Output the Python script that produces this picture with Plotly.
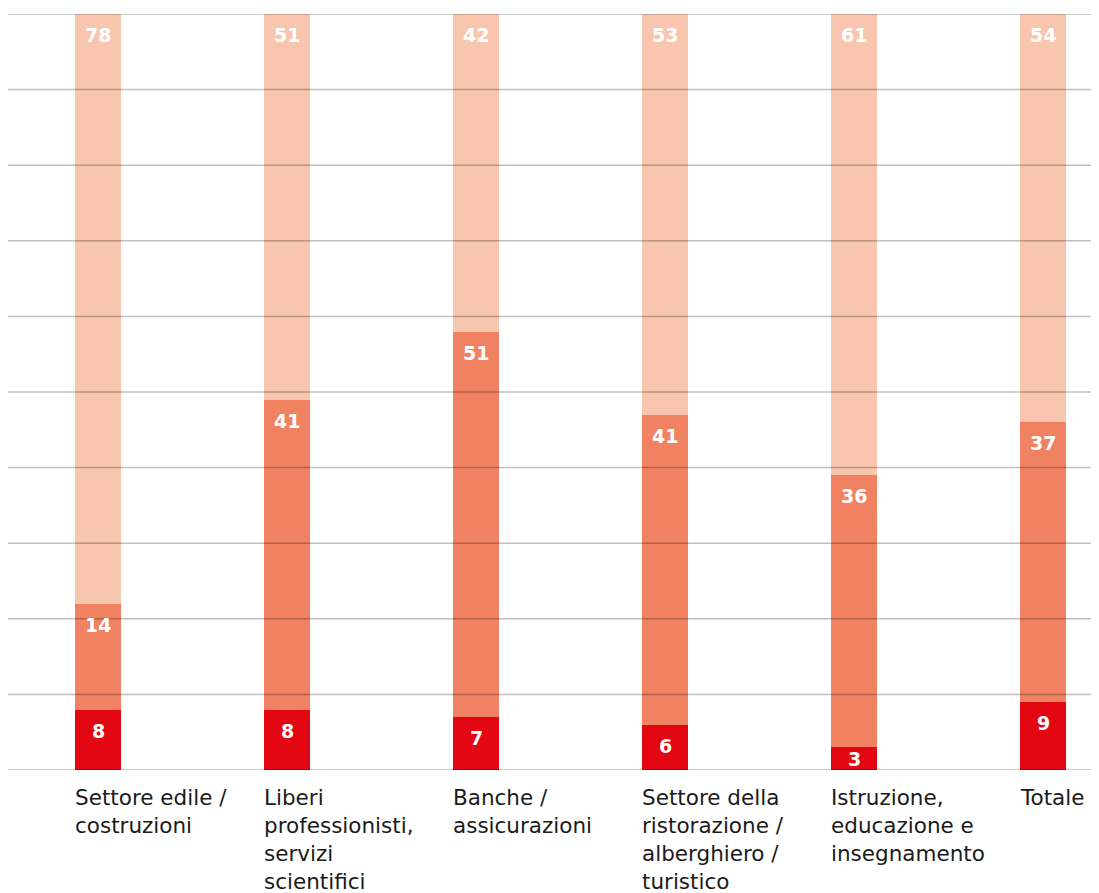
import plotly.graph_objects as go

categories = ["Settore edile /<br>costruzioni",
              "Liberi<br>professionisti,<br>servizi<br>scientifici",
              "Banche /<br>assicurazioni",
              "Settore della<br>ristorazione /<br>alberghiero /<br>turistico",
              "Istruzione,<br>educazione e<br>insegnamento",
              "Totale"]
bottom_vals = [8, 8, 7, 6, 3, 9]
middle_vals = [14, 41, 51, 41, 36, 37]
top_vals = [78, 51, 42, 53, 61, 54]
grid_ticks = [0, 10, 20, 30, 40, 50, 60, 70, 80, 90, 100]

colors = ["#E30613", "#F08262", "#F8C5AF"]
series = [bottom_vals, middle_vals, top_vals]

xs = list(range(len(categories)))
bar_w = 0.243

# page has an 8px body margin; compensate
W, H = 1091, 885
top_m = 6
plot_h = 756
px_per_unit = plot_h / 100.0

fig = go.Figure()
for vals, col in zip(series, colors):
    fig.add_trace(go.Bar(x=xs, y=vals, marker=dict(color=col, line=dict(width=0)),
                         width=bar_w, hoverinfo="skip"))

annotations = []
for i in xs:
    cum = 0
    for vals in series:
        cum += vals[i]
        seg_px = vals[i] * px_per_unit
        shift = -min(21, seg_px / 2)
        annotations.append(dict(x=i, y=cum, xref="x", yref="y", text=str(vals[i]),
                                showarrow=False, yanchor="middle", yshift=shift,
                                font=dict(family="DejaVu Sans", size=19, color="white", weight="bold")))
    annotations.append(dict(x=i - bar_w / 2, y=0, xref="x", yref="y", text=categories[i],
                            showarrow=False, xanchor="left", yanchor="top", align="left",
                            yshift=-13, xshift=-2,
                            font=dict(family="DejaVu Sans", size=21.5, color="#1a1a1a")))

shapes = [dict(type="line", xref="paper", yref="y", x0=0, x1=1, y0=t, y1=t,
               line=dict(color="rgba(0,0,0,0.25)", width=1.5), layer="above")
          for t in grid_ticks]

step = 189.0
c0 = 90.0
fig.update_layout(
    barmode="stack",
    width=W, height=H,
    margin=dict(l=0, r=0, t=top_m, b=H - top_m - plot_h),
    plot_bgcolor="white", paper_bgcolor="white",
    showlegend=False,
    bargap=0,
    xaxis=dict(range=[-c0 / step, (W - c0) / step], showgrid=False, zeroline=False,
               showticklabels=False, fixedrange=True),
    yaxis=dict(range=[0, 100], showgrid=False, zeroline=False, showticklabels=False,
               fixedrange=True),
    annotations=annotations,
    shapes=shapes,
)

fig.write_html("out.html")
